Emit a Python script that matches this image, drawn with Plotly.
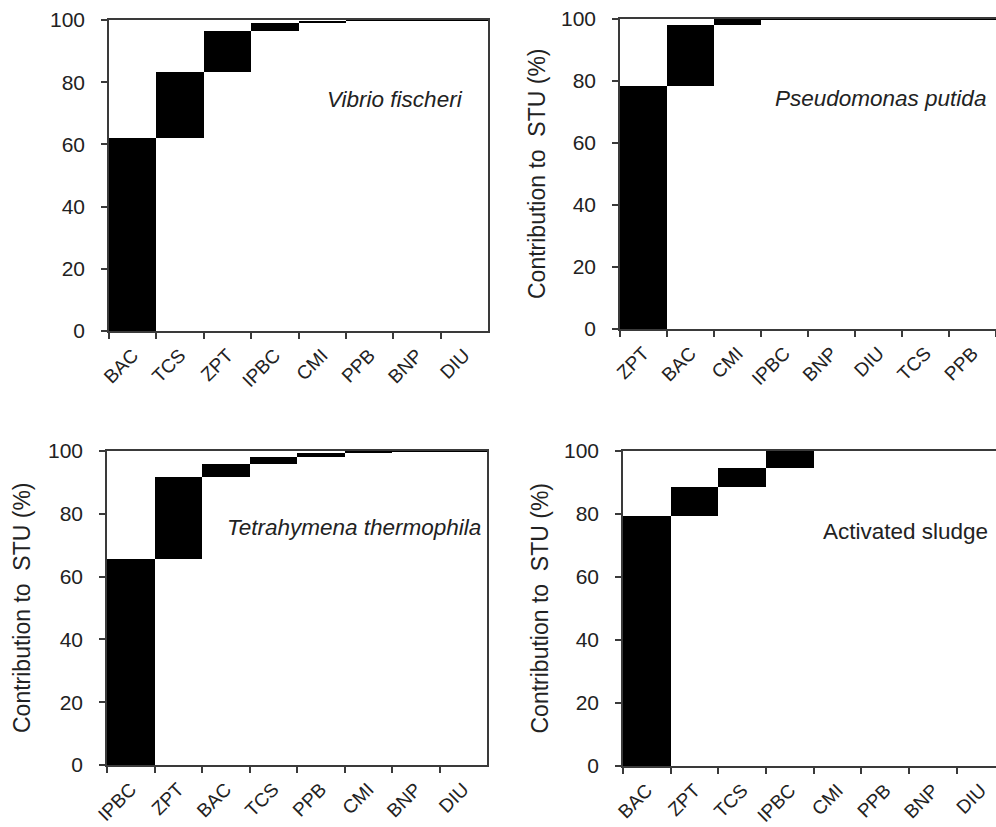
import plotly.graph_objects as go
import numpy as np

# ---------------- data ----------------
vf_cats = ["BAC", "TCS", "ZPT", "IPBC", "CMI", "PPB", "BNP", "DIU"]
vf_vals = [62.0, 21.2, 13.4, 2.4, 0.8, 0.1, 0.05, 0.05]

pp_cats = ["ZPT", "BAC", "CMI", "IPBC", "BNP", "DIU", "TCS", "PPB"]
pp_vals = [78.3, 19.8, 1.8, 0.05, 0.02, 0.01, 0.01, 0.01]

tt_cats = ["IPBC", "ZPT", "BAC", "TCS", "PPB", "CMI", "BNP", "DIU"]
tt_vals = [65.5, 26.2, 4.1, 2.4, 1.2, 0.5, 0.08, 0.02]

as_cats = ["BAC", "ZPT", "TCS", "IPBC", "CMI", "PPB", "BNP", "DIU"]
as_vals = [79.4, 9.1, 6.0, 5.5, 0.0, 0.0, 0.0, 0.0]

organisms = ["Vibrio fischeri", "Pseudomonas putida",
             "Tetrahymena thermophila", "Activated sludge"]
y_ticks = [0, 20, 40, 60, 80, 100]
y_title = "Contribution to\u00a0 STU (%)"

# ---------------- layout helpers ----------------
W, H = 996, 827
def px_x(x): return x / W
def px_y(y): return 1 - y / H

FONT = "Liberation Sans, Arial, sans-serif"
LINE = "#3a3a3a"

panels = [
    dict(cats=vf_cats, vals=vf_vals, name=organisms[0], italic=True,
         xd=(109, 488), yd=(20, 331), xr=[-0.5, 7.5], mirror_y=True,
         label_xy=(395, 99), title_x=None),
    dict(cats=pp_cats, vals=pp_vals, name=organisms[1], italic=True,
         xd=(620, 996), yd=(19, 329), xr=[-0.5, 7.5], mirror_y=False,
         label_xy=(880, 98), title_x=537),
    dict(cats=tt_cats, vals=tt_vals, name=organisms[2], italic=True,
         xd=(107, 487), yd=(451, 765), xr=[-0.5, 7.5], mirror_y=True,
         label_xy=(354, 527), title_x=22),
    dict(cats=as_cats, vals=as_vals, name=organisms[3], italic=False,
         xd=(623, 996), yd=(451, 766), xr=[-0.5, 7.32], mirror_y=False,
         label_xy=(905, 531), title_x=539),
]

fig = go.Figure()
layout = dict(width=W, height=H, margin=dict(l=0, r=0, t=0, b=0, pad=0),
              paper_bgcolor="white", plot_bgcolor="white",
              showlegend=False, annotations=[], bargap=0)

for i, p in enumerate(panels, start=1):
    sfx = "" if i == 1 else str(i)
    vals = np.array(p["vals"])
    bases = np.concatenate([[0], np.cumsum(vals)[:-1]])
    fig.add_trace(go.Bar(
        x=p["cats"], y=vals, base=bases, width=1.0,
        marker=dict(color="black", line=dict(width=0)),
        xaxis="x" + sfx, yaxis="y" + sfx, hoverinfo="x+y"))

    layout["xaxis" + sfx] = dict(
        domain=[px_x(p["xd"][0]), px_x(p["xd"][1])],
        anchor="y" + sfx, type="category", range=p["xr"],
        categoryorder="array", categoryarray=p["cats"],
        tickson="boundaries", ticks="outside", ticklen=6, tickwidth=1.5,
        tickcolor=LINE, showline=True, linecolor=LINE, linewidth=1.5,
        mirror=True, showgrid=False, zeroline=False, automargin=False,
        tickangle=-45, tickfont=dict(family=FONT, size=19, color="#222"),
        ticklabelstandoff=4, fixedrange=True)
    layout["yaxis" + sfx] = dict(
        domain=[px_y(p["yd"][1]), px_y(p["yd"][0])],
        anchor="x" + sfx, range=[0, 100], tickvals=y_ticks,
        ticks="outside", ticklen=6, tickwidth=1.5, tickcolor=LINE,
        showline=True, linecolor=LINE, linewidth=1.5, automargin=False,
        mirror=p["mirror_y"], showgrid=False, zeroline=False,
        tickfont=dict(family=FONT, size=21, color="#222"),
        ticklabelstandoff=12, fixedrange=True)

    txt = f"<i>{p['name']}</i>" if p["italic"] else p["name"]
    layout["annotations"].append(dict(
        text=txt, xref="paper", yref="paper",
        x=px_x(p["label_xy"][0]), y=px_y(p["label_xy"][1]),
        xanchor="center", yanchor="middle", showarrow=False,
        font=dict(family=FONT, size=22.5, color="#222")))
    if p["title_x"] is not None:
        layout["annotations"].append(dict(
            text=y_title, xref="paper", yref="paper",
            x=px_x(p["title_x"]), y=px_y((p["yd"][0] + p["yd"][1]) / 2),
            xanchor="center", yanchor="middle", textangle=-90,
            showarrow=False,
            font=dict(family=FONT, size=23, color="#222")))

fig.update_layout(**layout)
fig.write_html("out.html",
               config={"displayModeBar": False},
               post_script="document.body.style.margin='0';"
                           "document.body.style.overflow='hidden';")
